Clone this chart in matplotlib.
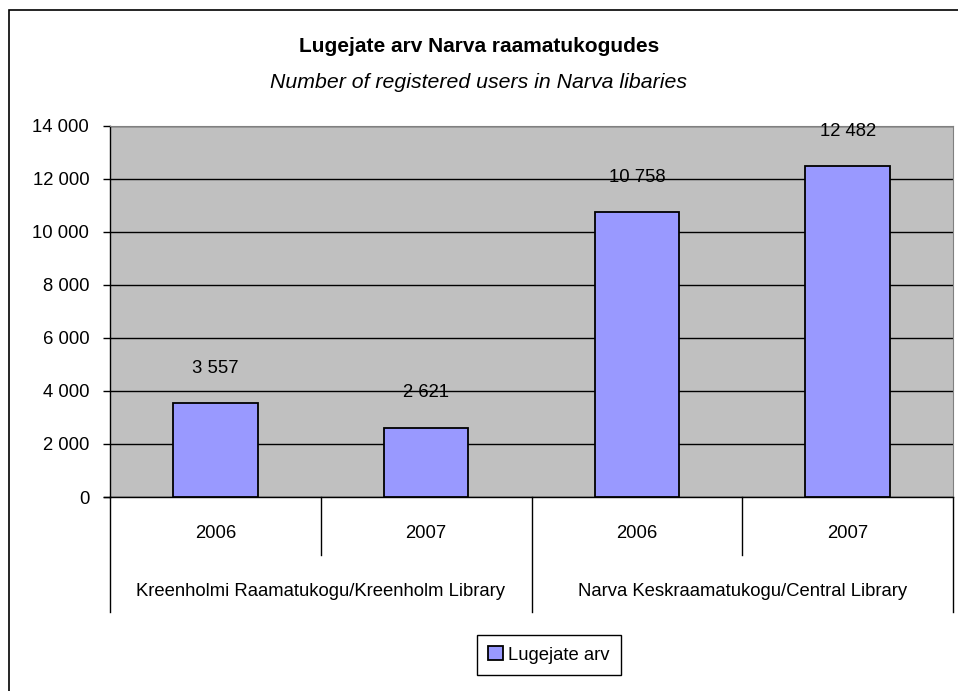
import matplotlib.pyplot as plt
import matplotlib.transforms as mtransforms
from matplotlib import font_manager
from matplotlib.patches import Rectangle
from matplotlib.ticker import FuncFormatter

years = ["2006", "2007", "2006", "2007"]
libraries = ["Kreenholmi Raamatukogu/Kreenholm Library",
             "Narva Keskraamatukogu/Central Library"]
users = [3557, 2621, 10758, 12482]
series_name = "Lugejate arv"

installed = {f.name for f in font_manager.fontManager.ttflist}
families = [f for f in ['Liberation Sans Narrow', 'DejaVu Sans Condensed', 'Liberation Sans']
            if f in installed] + ['DejaVu Sans']
plt.rcParams['font.family'] = families

W, H = 958, 691
fig = plt.figure(figsize=(W / 100, H / 100), dpi=100)

# chart area frame (cut off on the right and bottom like the original)
fig.patches.append(Rectangle((9 / W, -0.1), 1.2, 1 - 10 / H + 0.1,
                             transform=fig.transFigure, fill=False,
                             edgecolor='black', linewidth=1.2))

left, right, top, bottom = 110, 953, 126, 497
ax = fig.add_axes([left / W, 1 - bottom / H, (right - left) / W, (bottom - top) / H])
ax.set_facecolor('#C0C0C0')

fs = 13.3
x = list(range(len(users)))
ax.bar(x, users, width=0.4, color='#9999FF', edgecolor='black', linewidth=1.3,
       zorder=3, label=series_name)
ax.set_xlim(-0.5, len(users) - 0.5)
ax.set_ylim(0, 14000)
ax.set_yticks(range(0, 14001, 2000))
ax.yaxis.set_major_formatter(FuncFormatter(lambda v, p: f"{int(v):,}".replace(",", " ")))
ax.tick_params(axis='y', labelsize=fs, length=5, width=1, direction='out', pad=10)
ax.set_xticks([])
ax.grid(axis='y', color='black', linewidth=1, zorder=1)

ax.spines['top'].set_color('#808080')
ax.spines['right'].set_color('#808080')
ax.spines['left'].set_linewidth(1)
ax.spines['bottom'].set_linewidth(1)

for xi, v in zip(x, users):
    ax.annotate(f"{v:,}".replace(",", " "), (xi, v), xytext=(0, 25),
                textcoords='offset points', ha='center', va='center', fontsize=fs)

# two-level category axis
trans = mtransforms.blended_transform_factory(ax.transData, ax.transAxes)
h = bottom - top
for xs in [0.5, 2.5]:
    ax.plot([xs, xs], [0, -58 / h], transform=trans, color='black', lw=1, clip_on=False)
for xs in [-0.5, 1.5, 3.5]:
    ax.plot([xs, xs], [0, -115 / h], transform=trans, color='black', lw=1, clip_on=False)
ax.plot([-0.5 - 0.03, -0.5], [0, 0], transform=trans, color='black', lw=1, clip_on=False)

for xi, y in zip(x, years):
    ax.text(xi, -36 / h, y, transform=trans, ha='center', va='center', fontsize=fs)
for i, lib in enumerate(libraries):
    ax.text(2 * i + 0.5, -95 / h, lib, transform=trans, ha='center', va='center', fontsize=fs)

fig.text(0.5, 1 - 46 / H, "Lugejate arv Narva raamatukogudes", ha='center', va='center',
         fontsize=15, fontweight='bold')
fig.text(0.5, 1 - 82 / H, "Number of registered users in Narva libaries", ha='center',
         va='center', fontsize=15.3, style='italic')

leg = fig.legend(loc='center', bbox_to_anchor=(549 / W, 1 - 655 / H), fontsize=fs,
                 fancybox=False, edgecolor='black', framealpha=1, handlelength=0.8,
                 handleheight=0.8, handletextpad=0.3, borderpad=0.6)
leg.get_frame().set_linewidth(1)

fig.savefig("out.png", dpi=100)
